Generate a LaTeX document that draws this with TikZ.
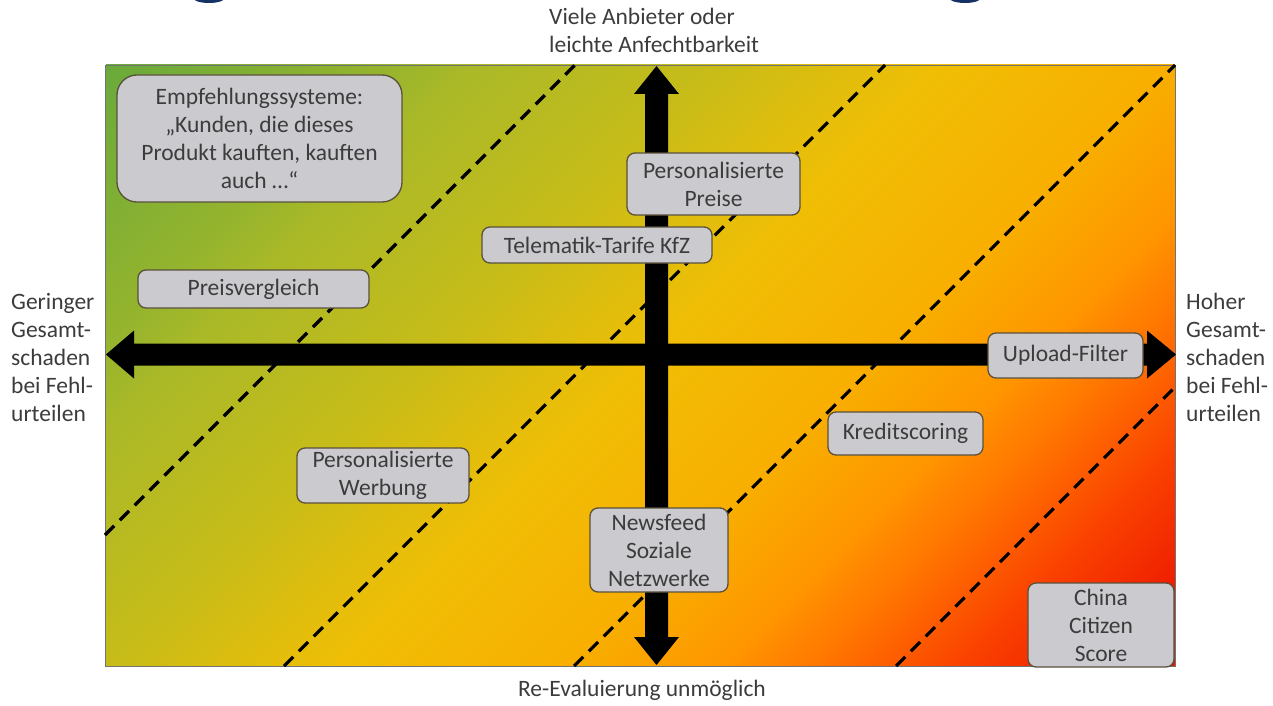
\documentclass[tikz,border=0pt]{standalone}
\usepackage{fontspec}
\setmainfont{Carlito}

% colour ramp of the background, from the green corner to the red corner
\definecolor{g0}{RGB}{105,170,60}
\definecolor{g1}{RGB}{150,180,45}
\definecolor{g2}{RGB}{170,185,40}
\definecolor{g3}{RGB}{198,188,25}
\definecolor{g4}{RGB}{240,190,5}
\definecolor{g5}{RGB}{248,175,0}
\definecolor{g6}{RGB}{255,150,0}
\definecolor{g7}{RGB}{255,115,0}
\definecolor{g8}{RGB}{250,65,0}
\definecolor{g9}{RGB}{235,20,0}
\definecolor{boxfill}{RGB}{203,203,207}
\definecolor{boxline}{RGB}{90,80,60}
\definecolor{textgray}{RGB}{60,60,60}
\definecolor{titleblue}{RGB}{20,50,100}

\pgfdeclarehorizontalshading{riskramp}{1182pt}{%
  color(0pt)=(g0); color(201pt)=(g1); color(260pt)=(g2); color(426pt)=(g3);
  color(591pt)=(g4); color(750pt)=(g5); color(860pt)=(g6); color(935pt)=(g7);
  color(1030pt)=(g8); color(1150pt)=(g9); color(1182pt)=(g9)}

\newcommand\diagfont{\fontsize{23.5}{28}\selectfont}

\tikzset{
  lab/.style={inner sep=0pt, text=textgray, font=\diagfont},
  item/.style={draw=boxline, fill=boxfill, line width=1.3pt, rounded corners=8pt,
    text=textgray, font=\diagfont, align=center, inner sep=0pt},
  border/.style={draw=black!55, line width=0.8pt},
  divider/.style={black, line width=3.2pt, dash pattern=on 13pt off 8pt},
  axis/.style={fill=black}
}

\begin{document}
\begin{tikzpicture}[x=1pt,y=-1pt]
\useasboundingbox (0,0) rectangle (1273,706);

% remains of the heading above
\begin{scope}
  \clip (0,0) rectangle (1273,706);
  \fill[titleblue] (209,-3) ellipse [x radius=17, y radius=6];
  \fill[titleblue] (965,-3) ellipse [x radius=17, y radius=6];
\end{scope}

% graded background
\coordinate (nw) at (105,65);
\coordinate (se) at (1175,666);
\begin{scope}
  \clip (nw) rectangle (se);
  \node[rotate=-45, inner sep=0pt, outer sep=0pt] at (640,365.5) {\pgfuseshading{riskramp}};
\end{scope}
\draw[border] (nw) rectangle (se);

% dashed risk bands
\draw[divider] (105,535) -- (575,65);
\draw[divider] (284,666) -- (885,65);
\draw[divider] (574,666) -- (1175,65);
\draw[divider] (896,666) -- (1175,387);

% axes
\fill[axis] (106,354.5) -- (134,330.5) -- (134,343.5) -- (1147,343.5) -- (1147,330.5)
  -- (1176,354.5) -- (1147,378.5) -- (1147,365.5) -- (134,365.5) -- (134,378.5) -- cycle;
\fill[axis] (656.5,66) -- (679,94) -- (668,94) -- (668,637) -- (679,637) -- (656.5,665)
  -- (634,637) -- (645,637) -- (645,94) -- (634,94) -- cycle;

% axis captions
\node[lab, anchor=west, align=left] (top) at (549,30) {Viele Anbieter oder\\leichte Anfechtbarkeit};
\node[lab] (bottom) at (642,690) {Re-Evaluierung unmöglich};
\node[lab, anchor=west, align=left] (left) at (11,357) {Geringer\\Gesamt-\\schaden\\bei Fehl-\\urteilen};
\node[lab, anchor=west, align=left] (right) at (1186,357) {Hoher\\Gesamt-\\schaden\\bei Fehl-\\urteilen};

% applications
\node[item, rounded corners=20pt, minimum width=285pt, minimum height=127pt] (emp) at (259.5,138.5)
  {Empfehlungssysteme:\\„Kunden, die dieses\\Produkt kauften, kauften\\auch …“};
\node[item, minimum width=231pt, minimum height=38pt] (preis) at (253.5,289) {Preisvergleich};
\node[item, minimum width=173pt, minimum height=62pt] (ppreise) at (713.5,184) {Personalisierte\\Preise};
\node[item, minimum width=230pt, minimum height=36pt] (tele) at (597,245) {Telematik-Tarife KfZ};
\node[item, minimum width=155pt, minimum height=45pt] (upload) at (1065.5,355.5) {Upload-Filter};
\node[item, minimum width=155pt, minimum height=43pt] (kredit) at (905.5,433.5) {Kreditscoring};
\node[item, minimum width=172pt, minimum height=55pt] (werbung) at (383,475.5) {Personalisierte\\Werbung};
\node[item, minimum width=138pt, minimum height=84pt] (news) at (659,550) {Newsfeed\\Soziale\\Netzwerke};
\node[item, minimum width=146pt, minimum height=84pt] (china) at (1101,625) {China\\Citizen\\Score};
\end{tikzpicture}
\end{document}
